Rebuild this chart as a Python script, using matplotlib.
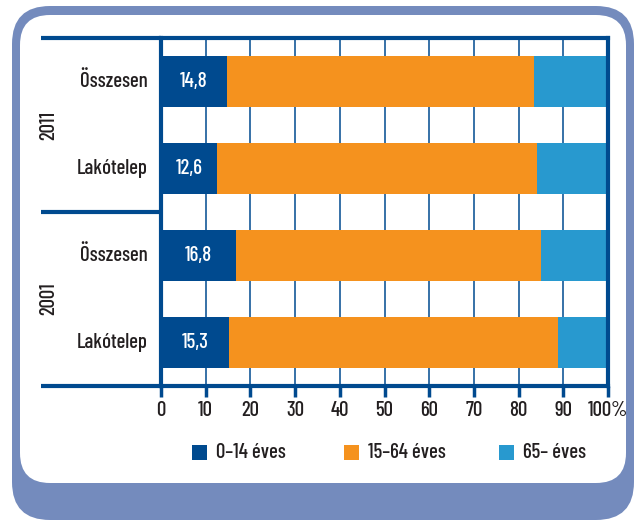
import matplotlib
matplotlib.use("Agg")
import matplotlib.pyplot as plt
from matplotlib.patches import FancyBboxPatch, Rectangle
import numpy as np

# adatok
categories = ["Összesen", "Lakótelep", "Összesen", "Lakótelep"]
years = ["2011", "2001"]
age_0_14 = [14.8, 12.6, 16.8, 15.3]
age_15_64 = [68.6, 71.5, 68.3, 73.5]
age_65 = [16.6, 15.9, 14.9, 11.2]
value_labels = ["14,8", "12,6", "16,8", "15,3"]
series_names = ["0–14 éves", "15–64 éves", "65– éves"]
xticks = [0, 10, 20, 30, 40, 50, 60, 70, 80, 90, 100]
xtick_labels = ["0", "10", "20", "30", "40", "50", "60", "70", "80", "90", "100%"]

dark = "#004a8f"
orange = "#f5921e"
light = "#2899cf"
frame = "#748bbd"
txt = "#231f20"
colors = [dark, orange, light]

plt.rcParams['font.family'] = ['Barlow Condensed', 'DejaVu Sans']
plt.rcParams['font.weight'] = 500
fs = 15

fig = plt.figure(figsize=(6.42, 5.2), dpi=100)

# keret (rounded frame)
fig.add_artist(FancyBboxPatch((0.12, 0.0), 6.22, 5.14,
                              boxstyle="round,pad=0,rounding_size=0.38",
                              transform=fig.dpi_scale_trans, facecolor=frame,
                              edgecolor="none", zorder=0))
fig.add_artist(FancyBboxPatch((0.20, 0.37), 6.06, 4.68,
                              boxstyle="round,pad=0,rounding_size=0.3",
                              transform=fig.dpi_scale_trans, facecolor="white",
                              edgecolor="none", zorder=0))

ax = fig.add_axes([161 / 642, 1 - 386 / 520, 447 / 642, 348 / 520])
ax.set_facecolor("none")

y = np.arange(len(categories)) + 0.5
h = 0.586
left = np.zeros(len(categories))
for vals, c in zip([age_0_14, age_15_64, age_65], colors):
    ax.barh(y, vals, height=h, left=left, color=c, zorder=3)
    left = left + np.array(vals)

for yi, v, lab in zip(y, age_0_14, value_labels):
    ax.text(v / 2, yi, lab, color="white", ha="center", va="center",
            fontsize=fs, zorder=4)

ax.set_xlim(0, 100)
ax.set_ylim(4, 0)
ax.set_yticks([])
ax.set_xticks(xticks)
ax.set_xticklabels(xtick_labels, fontsize=fs, color=txt)
ax.tick_params(axis="x", direction="out", length=8, width=2.5, color=dark, pad=3)
ax.xaxis.grid(True, color=dark, linewidth=1.1, zorder=1)
ax.set_axisbelow(True)

for s in ["left", "right", "top", "bottom"]:
    ax.spines[s].set_color(dark)
    ax.spines[s].set_linewidth(3)
    ax.spines[s].set_zorder(5)

# vízszintes vonalak balra kinyúlva
tr = ax.get_yaxis_transform()
x0 = (41 - 161) / 447
for yy in [0, 2, 4]:
    ax.plot([x0, 0], [yy, yy], color=dark, linewidth=3, transform=tr,
            clip_on=False, solid_capstyle="butt")

# kategória és év feliratok
for yi, cat in zip(y, categories):
    ax.text(-13 / 447, yi, cat, transform=tr, ha="right", va="center",
            fontsize=fs, color=txt)
for i, yr in enumerate(years):
    ax.text((49 - 161) / 447, 1 + 2 * i, yr, transform=tr, ha="center",
            va="center", rotation=90, fontsize=fs, color=txt)

# jelmagyarázat
leg_x = [192, 344, 499]
for lx, c, name in zip(leg_x, colors, series_names):
    fig.add_artist(Rectangle((lx / 642, 1 - 460 / 520), 15 / 642, 15 / 520,
                             transform=fig.transFigure, facecolor=c,
                             edgecolor="none"))
    fig.text((lx + 24) / 642, 1 - 452 / 520, name, ha="left", va="center",
             fontsize=fs, color=txt)

fig.savefig("out.png", dpi=100)
